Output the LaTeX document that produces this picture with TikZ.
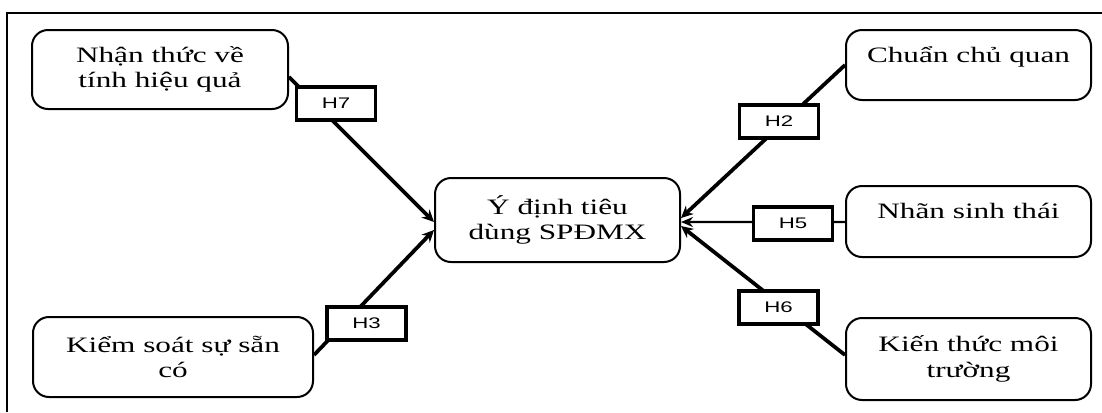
\documentclass[tikz,border=0pt]{standalone}
\usepackage{fontspec}
\setmainfont{Liberation Serif}[FakeStretch=1.42]
\newfontfamily\labelfont{Liberation Sans}[FakeStretch=1.45]
\usetikzlibrary{arrows.meta}

\tikzset{
  factor/.style={draw, line width=1.5pt, rounded corners=12pt, align=center,
    inner sep=2pt, font=\fontsize{16.5}{19}\selectfont},
  oneline/.style={text height=10.5pt, text depth=15pt},
  hyp/.style={draw, line width=2.7pt, fill=white, inner sep=0pt,
    minimum width=59.25pt, minimum height=24.75pt,
    font=\labelfont\fontsize{11.5}{13}\selectfont},
  link/.style={line width=2.8pt, -{Stealth[length=9pt,width=8.5pt]}},
  thinlink/.style={line width=1.8pt, -{Stealth[length=9pt,width=7.5pt]}},
}

\begin{document}
\begin{tikzpicture}[x=0.75pt, y=-0.75pt]
  \useasboundingbox (0,0) rectangle (1102,412);

  % frame (top and left edges)
  \draw[line width=1.5pt] (7,412) -- (7,13) -- (1102,13);

  % factors
  \node[factor, minimum width=192pt, minimum height=59.25pt] (eff) at (160,69.5)
    {Nhận thức về\\tính hiệu quả};
  \node[factor, minimum width=210pt, minimum height=60pt] (avail) at (173,357)
    {Kiểm soát sự sẵn\\có};
  \node[factor, minimum width=183.75pt, minimum height=63pt] (intent) at (557.5,220)
    {Ý định tiêu\\dùng SPĐMX};
  \node[factor, oneline, minimum width=183.75pt, minimum height=52.5pt] (norm) at (968.5,65)
    {Chuẩn chủ quan};
  \node[factor, oneline, minimum width=183.75pt, minimum height=53.25pt] (eco) at (968.5,221.5)
    {Nhãn sinh thái};
  \node[factor, minimum width=183.75pt, minimum height=61.5pt] (know) at (968.5,359)
    {Kiến thức môi\\trường};

  % hypothesised paths
  \draw[link] ([yshift=-5.6pt]eff.east) -- ([yshift=-1.5pt]intent.west);
  \draw[link] ([yshift=1.5pt]avail.east) -- ([yshift=-7.5pt]intent.west);
  \draw[link] (norm.west) -- ([yshift=1.5pt]intent.east);
  \draw[thinlink] ([yshift=-0.4pt]eco.west) -- ([yshift=-1.5pt]intent.east);
  \draw[link] ([yshift=3pt]know.west) -- ([yshift=-4.5pt]intent.east);

  % hypothesis labels
  \node[hyp] (h7) at (336,103.5) {H7};
  \node[hyp] (h3) at (366.5,323.5) {H3};
  \node[hyp] (h2) at (779,121.5) {H2};
  \node[hyp] (h5) at (793,223.5) {H5};
  \node[hyp] (h6) at (778.5,307.5) {H6};
\end{tikzpicture}
\end{document}
